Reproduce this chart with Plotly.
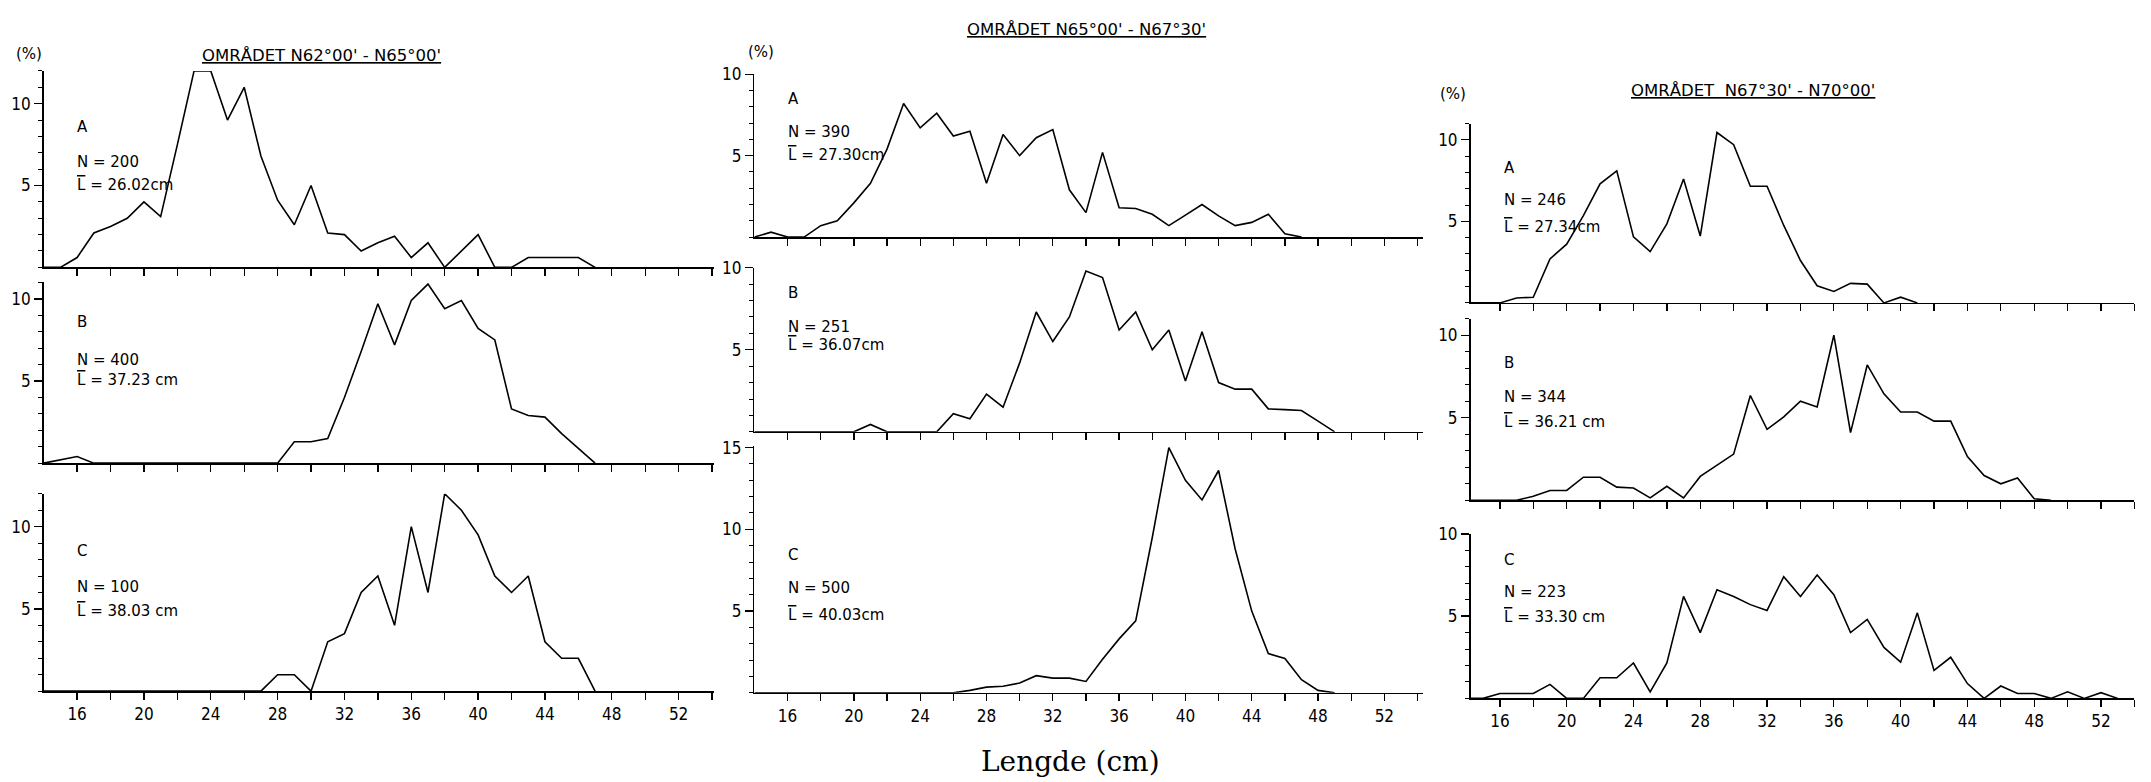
import plotly.graph_objects as go

W, H = 2151, 782

# ---------------- data ----------------
region_titles = ["OMRÅDET N62°00' - N65°00'",
                 "OMRÅDET N65°00' - N67°30'",
                 "OMRÅDET  N67°30' - N70°00'"]
group_labels = ["A", "B", "C"]
n_fish = [[200, 400, 100], [390, 251, 500], [246, 344, 223]]
mean_length = [["26.02cm", "37.23 cm", "38.03 cm"],
               ["27.30cm", "36.07cm", "40.03cm"],
               ["27.34cm", "36.21 cm", "33.30 cm"]]

length_start = 14  # first length class (cm) of every series

pct_n62_a = [0, 0, 0.6, 2.1, 2.5, 3.0, 4.0, 3.1, 7.5, 12.0, 12.0, 9.0, 11.0, 6.8, 4.1, 2.6, 5.0,
             2.1, 2.0, 1.0, 1.5, 1.9, 0.6, 1.5, 0, 1.0, 2.0, 0, 0, 0.6, 0.6, 0.6, 0.6, 0]
pct_n62_b = [0, 0.2, 0.4, 0, 0, 0, 0, 0, 0, 0, 0, 0, 0, 0, 0, 1.3, 1.3, 1.5, 4.0, 6.8, 9.7,
             7.2, 9.9, 10.9, 9.4, 9.9, 8.2, 7.5, 3.3, 2.9, 2.8, 1.8, 0.9, 0]
pct_n62_c = [0, 0, 0, 0, 0, 0, 0, 0, 0, 0, 0, 0, 0, 0, 1, 1, 0, 3, 3.5, 6, 7, 4, 10, 6, 12, 11,
             9.5, 7, 6, 7, 3, 2, 2, 0]
pct_n65_a = [0, 0.3, 0, 0, 0.7, 1.0, 2.1, 3.3, 5.4, 8.2, 6.7, 7.6, 6.2, 6.5, 3.3, 6.3, 5.0, 6.1,
             6.6, 2.9, 1.5, 5.2, 1.8, 1.75, 1.4, 0.7, 1.35, 2.0, 1.3, 0.7, 0.9, 1.4, 0.2, 0]
pct_n65_b = [0, 0, 0, 0, 0, 0, 0, 0.45, 0, 0, 0, 0, 1.1, 0.8, 2.3, 1.5, 4.2, 7.3, 5.5, 7.0, 9.8,
             9.4, 6.2, 7.3, 5.0, 6.2, 3.1, 6.1, 3.0, 2.6, 2.6, 1.4, 1.35, 1.3, 0.65, 0]
pct_n65_c = [0, 0, 0, 0, 0, 0, 0, 0, 0, 0, 0, 0, 0, 0.15, 0.35, 0.4, 0.6, 1.05, 0.9, 0.9, 0.7,
             2.05, 3.3, 4.4, 9.5, 15.0, 13.0, 11.8, 13.6, 8.8, 5.0, 2.4, 2.1, 0.8, 0.15, 0]
pct_n67_a = [0, 0, 0, 0.3, 0.35, 2.7, 3.6, 5.35, 7.3, 8.1, 4.05, 3.15, 4.85, 7.6, 4.1, 10.45,
             9.7, 7.15, 7.15, 4.75, 2.6, 1.05, 0.7, 1.2, 1.15, 0, 0.35, 0]
pct_n67_b = [0, 0, 0, 0, 0.25, 0.6, 0.6, 1.4, 1.4, 0.8, 0.75, 0.15, 0.85, 0.15, 1.45, 2.15, 2.8,
             6.35, 4.3, 5.05, 6.0, 5.65, 10.0, 4.1, 8.2, 6.45, 5.35, 5.35, 4.8, 4.8, 2.65, 1.5,
             1.0, 1.35, 0.1, 0]
pct_n67_c = [0, 0, 0.3, 0.3, 0.3, 0.85, 0, 0, 1.25, 1.25, 2.15, 0.4, 2.15, 6.2, 4.0, 6.6, 6.2,
             5.7, 5.35, 7.4, 6.2, 7.5, 6.3, 4.0, 4.8, 3.1, 2.2, 5.2, 1.7, 2.5, 0.9, 0, 0.75, 0.3,
             0.3, 0, 0.4, 0, 0.35, 0]

series = [[pct_n62_a, pct_n62_b, pct_n62_c],
          [pct_n65_a, pct_n65_b, pct_n65_c],
          [pct_n67_a, pct_n67_b, pct_n67_c]]

x_tick_values = list(range(16, 55, 2))
x_tick_labels = [str(v) if (v - 16) % 4 == 0 and v <= 52 else "" for v in x_tick_values]
y_tick_values = [5, 10, 15]

# ---------------- layout geometry (pixels) ----------------
col_geom = [(43.7, 713.7, 14.0, 54.1), (754.4, 1422.5, 14.0, 54.3), (1470.5, 2134.4, 14.24, 54.0)]
row_geom = [[(61.7, 260.7, 12.0), (276, 459, 11.0), (490, 690, 12.0)],
            [(65, 230, 10.0), (261, 427.3, 10.0), (441.6, 691.7, 15.1)],
            [(115, 296.7, 11.0), (312.7, 496.7, 11.0), (530.7, 697.3, 10.0)]]
text_y = [[(8.6, 6.43, 5.05), (8.6, 6.3, 5.06), (8.5, 6.36, 4.85)],
          [(8.5, 6.47, 5.05), (8.47, 6.36, 5.26), (8.46, 6.39, 4.74)],
          [(8.28, 6.28, 4.63), (8.34, 6.23, 4.72), (8.43, 6.48, 4.94)]]
text_x = [15.9, 15.9, 16.1]
title_pos = [(321.7, 46), (1086, 20), (1753, 82)]
pct_pos = [(29, 45), (761, 43), (1453, 85)]

TICKFONT = "Liberation Sans Narrow, DejaVu Sans Condensed, Arial Narrow, sans-serif"
TEXTFONT = "DejaVu Sans, sans-serif"

fig = go.Figure()
annotations = []
layout_axes = {}

k = 0
for c in range(3):
    x0, x1, xmin, xmax = col_geom[c]
    for r in range(3):
        k += 1
        top, bottom, ymax = row_geom[c][r]
        vals = series[c][r]
        xs = list(range(length_start, length_start + len(vals)))
        xa = "x" if k == 1 else f"x{k}"
        ya = "y" if k == 1 else f"y{k}"
        fig.add_trace(go.Scatter(x=xs, y=vals, mode="lines", xaxis=xa, yaxis=ya,
                                 line=dict(color="black", width=1.6), showlegend=False,
                                 hoverinfo="skip"))
        xkey = "xaxis" if k == 1 else f"xaxis{k}"
        ykey = "yaxis" if k == 1 else f"yaxis{k}"
        layout_axes[xkey] = dict(
            domain=[x0 / W, x1 / W], range=[xmin, xmax], anchor=ya,
            showline=True, linecolor="black", linewidth=1.5, showgrid=False, zeroline=False,
            ticks="outside", ticklen=7, tickwidth=1.3, tickcolor="black",
            tickmode="array", tickvals=x_tick_values,
            ticktext=x_tick_labels if r == 2 else [""] * len(x_tick_values),
            tickfont=dict(family=TICKFONT, size=17, color="black"), fixedrange=True)
        layout_axes[ykey] = dict(
            domain=[1 - bottom / H, 1 - top / H], range=[0, ymax], anchor=xa,
            showline=True, linecolor="black", linewidth=1.5, showgrid=False, zeroline=False,
            ticks="outside", ticklen=8, tickwidth=1.3, tickcolor="black",
            tickmode="array", tickvals=y_tick_values,
            tickfont=dict(family=TICKFONT, size=17, color="black"),
            minor=dict(tickmode="linear", tick0=0, dtick=1, ticks="outside", ticklen=4,
                       tickcolor="black", tickwidth=1),
            fixedrange=True)
        ty = text_y[c][r]
        lines = [group_labels[r], f"N = {n_fish[c][r]}",
                 f"<span style='text-decoration:overline'>L</span> = {mean_length[c][r]}"]
        for txt, yy in zip(lines, ty):
            annotations.append(dict(x=text_x[c], y=yy, xref=xa, yref=ya, text=txt,
                                    showarrow=False, xanchor="left", yanchor="middle",
                                    font=dict(family=TEXTFONT, size=15, color="black")))
    tx, tyy = title_pos[c]
    annotations.append(dict(x=tx / W, y=1 - tyy / H, xref="paper", yref="paper",
                            text=f"<u>{region_titles[c]}</u>", showarrow=False,
                            xanchor="center", yanchor="middle",
                            font=dict(family=TEXTFONT, size=16.5, color="black")))
    px_, py_ = pct_pos[c]
    annotations.append(dict(x=px_ / W, y=1 - py_ / H, xref="paper", yref="paper",
                            text="(%)", showarrow=False, xanchor="center", yanchor="middle",
                            font=dict(family=TEXTFONT, size=15, color="black")))

annotations.append(dict(x=1070 / W, y=1 - 761 / H, xref="paper", yref="paper",
                        text="Lengde (cm)", showarrow=False, xanchor="center", yanchor="middle",
                        font=dict(family="DejaVu Serif, Liberation Serif, serif", size=28,
                                  color="black")))

fig.update_layout(width=W, height=H, autosize=False,
                  margin=dict(l=0, r=0, t=0, b=0),
                  paper_bgcolor="white", plot_bgcolor="white",
                  annotations=annotations, **layout_axes)

fig.write_html("out.html",
               config={"displayModeBar": False, "staticPlot": True},
               post_script="document.body.style.margin='0px';"
                           "document.body.style.overflow='hidden';")
